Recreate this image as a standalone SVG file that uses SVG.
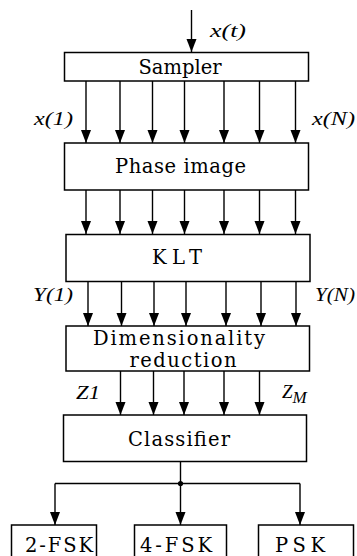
<svg xmlns="http://www.w3.org/2000/svg" width="357" height="556" viewBox="0 0 357 556">
<style>
.box{fill:#fff;stroke:#000;stroke-width:1.5}
.t{font-family:"DejaVu Serif",serif;font-size:19.5px;fill:#000;text-anchor:middle}
.lb{font-family:"Liberation Serif",serif;font-style:italic;font-size:19px;fill:#000}
.c line{stroke:#000;stroke-width:1.4}
.ar{marker-end:url(#ah)}
</style>
<defs>
<marker id="ah" markerUnits="userSpaceOnUse" markerWidth="13" markerHeight="11" refX="13" refY="5" orient="auto" viewBox="0 0 13 10">
<path d="M0,0 L13,5 L0,10 Z" fill="#000"/>
</marker>
</defs>
<rect width="357" height="556" fill="#fff"/>
<g id="connectors" class="c">
<line class="ar" x1="191.5" y1="10" x2="191.5" y2="52"/>
<line class="ar" x1="86" y1="81" x2="86" y2="143"/>
<line class="ar" x1="120" y1="81" x2="120" y2="143"/>
<line class="ar" x1="152.5" y1="81" x2="152.5" y2="143"/>
<line class="ar" x1="184.5" y1="81" x2="184.5" y2="143"/>
<line class="ar" x1="224" y1="81" x2="224" y2="143"/>
<line class="ar" x1="259.5" y1="81" x2="259.5" y2="143"/>
<line class="ar" x1="295.5" y1="81" x2="295.5" y2="143"/>
<line class="ar" x1="86" y1="190" x2="86" y2="234"/>
<line class="ar" x1="120" y1="190" x2="120" y2="234"/>
<line class="ar" x1="152.5" y1="190" x2="152.5" y2="234"/>
<line class="ar" x1="184.5" y1="190" x2="184.5" y2="234"/>
<line class="ar" x1="224" y1="190" x2="224" y2="234"/>
<line class="ar" x1="259.5" y1="190" x2="259.5" y2="234"/>
<line class="ar" x1="295.5" y1="190" x2="295.5" y2="234"/>
<line class="ar" x1="88" y1="282" x2="88" y2="326"/>
<line class="ar" x1="121.5" y1="282" x2="121.5" y2="326"/>
<line class="ar" x1="154" y1="282" x2="154" y2="326"/>
<line class="ar" x1="186" y1="282" x2="186" y2="326"/>
<line class="ar" x1="226" y1="282" x2="226" y2="326"/>
<line class="ar" x1="261" y1="282" x2="261" y2="326"/>
<line class="ar" x1="296" y1="282" x2="296" y2="326"/>
<line class="ar" x1="120.5" y1="371" x2="120.5" y2="415"/>
<line class="ar" x1="153.5" y1="371" x2="153.5" y2="415"/>
<line class="ar" x1="184" y1="371" x2="184" y2="415"/>
<line class="ar" x1="224" y1="371" x2="224" y2="415"/>
<line class="ar" x1="259.5" y1="371" x2="259.5" y2="415"/>
<line x1="180.5" y1="461.5" x2="180.5" y2="483.5"/>
<line x1="55" y1="483.5" x2="300" y2="483.5"/>
<line class="ar" x1="55" y1="483.5" x2="55" y2="525"/>
<line class="ar" x1="180.5" y1="483.5" x2="180.5" y2="525"/>
<line class="ar" x1="300" y1="483.5" x2="300" y2="525"/>
<circle cx="180.5" cy="483.5" r="2.6" fill="#000"/>
</g>
<g id="labels">
<text class="lb" x="210" y="37" textLength="36" lengthAdjust="spacingAndGlyphs">x(t)</text>
<text class="lb" x="34" y="125" textLength="39" lengthAdjust="spacingAndGlyphs">x(1)</text>
<text class="lb" x="312" y="125" textLength="43" lengthAdjust="spacingAndGlyphs">x(N)</text>
<text class="lb" x="33" y="301" textLength="40" lengthAdjust="spacingAndGlyphs">Y(1)</text>
<text class="lb" x="315" y="301" textLength="40" lengthAdjust="spacingAndGlyphs">Y(N)</text>
<text class="lb" x="76" y="399" textLength="24" lengthAdjust="spacingAndGlyphs">Z1</text>
<text class="lb" x="282" y="398">Z<tspan font-size="17" dy="5">M</tspan></text>
</g>
<g id="sampler"><rect class="box" x="64.5" y="52.5" width="244" height="28.5"/><text class="t" x="180" y="73.5" textLength="83">Sampler</text></g>
<g id="phase"><rect class="box" x="64.5" y="143" width="244" height="47"/><text class="t" x="180.5" y="172.5" textLength="131">Phase image</text></g>
<g id="klt"><rect class="box" x="66" y="234.5" width="244" height="47"/><text class="t" x="177" y="264" font-size="21" textLength="50">KLT</text></g>
<g id="dimred"><rect class="box" x="66" y="326" width="243.5" height="45"/><text class="t" x="179" y="345" font-size="17.5" textLength="172">Dimensionality</text><text class="t" x="183" y="367" font-size="17.5" textLength="107">reduction</text></g>
<g id="classifier"><rect class="box" x="63.5" y="415" width="243" height="46.5"/><text class="t" x="179" y="445.5" textLength="102">Classifier</text></g>
<g id="fsk2"><rect class="box" x="11.5" y="525" width="85" height="40"/><text class="t" x="59" y="552" textLength="68">2-FSK</text></g>
<g id="fsk4"><rect class="box" x="134.5" y="525" width="92" height="40"/><text class="t" x="176" y="552" textLength="72">4-FSK</text></g>
<g id="psk"><rect class="box" x="258.5" y="525" width="95" height="40"/><text class="t" x="300" y="552" textLength="50">PSK</text></g>
</svg>
